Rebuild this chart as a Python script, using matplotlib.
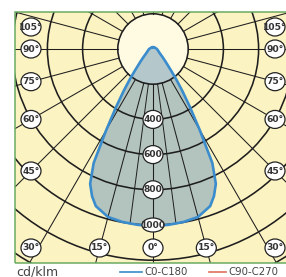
import numpy as np
import matplotlib
matplotlib.use('Agg')
import matplotlib.pyplot as plt
from matplotlib.patches import Rectangle, Circle, Ellipse

# ---------------- data ----------------
gamma_deg = [0, 5, 10, 15, 20, 22.5, 25, 27.5, 30, 32.5, 35, 37.5, 40, 45, 50,
             60, 70, 80, 90, 100, 120, 150, 180]
c0_c180 = [1005, 1003, 998, 988, 950, 905, 845, 730, 530, 390, 290, 215, 160,
           100, 70, 42, 32, 26, 22, 18, 14, 12, 10]
ring_values = [200, 400, 600, 800, 1000, 1200, 1400, 1600]
ring_labels = ['400', '600', '800', '1000']
angle_labels = [0, 15, 30, 45, 60, 75, 90, 105]
unit_label = 'cd/klm'
legend_labels = ['C0-C180', 'C90-C270']

# ---------------- layout ----------------
W, H = 286, 277
K = 0.176            # pixels per cd
OX, OY = 153, 49     # pixel position of the polar origin


def px(x, y):
    """pixel position -> data (cd) position"""
    return (x - OX) / K, (OY - y) / K


fig = plt.figure(figsize=(W / 100, H / 100), dpi=100)
ax = fig.add_axes([0, 0, 1, 1])
x0, y1 = px(0, 0)
x1, y0 = px(W, H)
ax.set_xlim(x0, x1)
ax.set_ylim(y0, y1)
ax.axis('off')

yellow = '#fcf3c2'
pale = '#fffbe3'
grid_c = '#1e1e1e'

fx0, fy1 = px(15, 12)
fx1, fy0 = px(291, 263)
frame = Rectangle((fx0, fy0), fx1 - fx0, fy1 - fy0, facecolor=yellow,
                  edgecolor='none', zorder=0)
ax.add_patch(frame)

r_in = ring_values[0]
inner = Circle((0, 0), r_in, facecolor=pale, edgecolor='none', zorder=1)
ax.add_patch(inner)
inner.set_clip_path(frame)

# rings
for r in ring_values:
    c = Circle((0, 0), r, facecolor='none', edgecolor=grid_c, lw=1.15, zorder=3)
    ax.add_patch(c)
    c.set_clip_path(frame)

# radial lines every 15 degrees (both sides)
rmax = 3000
for a in range(0, 181, 15):
    for s in (-1, 1):
        t = np.radians(a)
        xs = [s * r_in * np.sin(t), s * rmax * np.sin(t)]
        ys = [-r_in * np.cos(t), -rmax * np.cos(t)]
        ln, = ax.plot(xs, ys, color=grid_c, lw=0.75, zorder=3)
        ln.set_clip_path(frame)
# finer lines at +-7.5 degrees inside the main beam
for s in (-1, 1):
    t = np.radians(7.5)
    ax.plot([s * r_in * np.sin(t), s * ring_values[4] * np.sin(t)],
            [-r_in * np.cos(t), -ring_values[4] * np.cos(t)],
            color=grid_c, lw=0.7, zorder=3)

# luminous intensity curve (symmetric C0-C180 plane)
g = np.radians(np.array(gamma_deg))
I = np.array(c0_c180)
gg = np.concatenate([-g[::-1], g[1:]])
II = np.concatenate([I[::-1], I[1:]])
xc = II * np.sin(gg)
yc = -II * np.cos(gg)
ax.fill(xc, yc, color='#7fa3bd', alpha=0.58, zorder=2, lw=0)
ax.plot(np.append(xc, xc[0]), np.append(yc, yc[0]), color='#3a8ccc',
        lw=1.9, zorder=4, solid_joinstyle='round')

# label markers
lab_font = dict(family=['Liberation Sans Narrow', 'DejaVu Sans'],
                fontsize=6.6, fontweight='bold', color='#333333',
                ha='center', va='center', zorder=7)
half_w = 122 / K
bottom = 199 / K
top = 22 / K
rw, rh = 20 / K, 18 / K


def badge(x, y, text, w=rw, h=rh):
    e = Ellipse((x, y), w, h, facecolor='white', edgecolor='#222222',
                lw=0.9, zorder=6)
    ax.add_patch(e)
    ax.text(x, y, text, **lab_font)


for a in angle_labels:
    t = np.radians(a)
    sides = (1,) if a == 0 else (-1, 1)
    for s in sides:
        dx, dy = np.sin(t), -np.cos(t)
        cand = []
        if dx > 1e-9:
            cand.append(half_w / dx)
        if dy < -1e-9:
            cand.append(bottom / -dy)
        tt = min(cand)
        x = dx * tt
        y = dy * tt
        if half_w - x < 60:
            x = half_w
        y = min(max(y, -bottom), top)
        badge(s * x, y, f'{a}°')

for lab in ring_labels:
    v = float(lab)
    badge(0, -v, lab, w=(22 if len(lab) > 3 else 20) / K,
          h=(14 if len(lab) > 3 else 18) / K)

# frame border
ax.add_patch(Rectangle((fx0, fy0), fx1 - fx0, fy1 - fy0, facecolor='none',
                       edgecolor='#6aab62', lw=1.1, zorder=8))

# bottom legend
leg_font = dict(color='#444444', va='center', family='DejaVu Sans')
ax.text(*px(16, 272), unit_label, ha='left', fontsize=9.0, **leg_font)
ax.plot(*zip(px(120, 272), px(142, 272)), color='#3a8ccc', lw=1.2)
ax.text(*px(144, 272), legend_labels[0], ha='left', fontsize=7.3, **leg_font)
ax.plot(*zip(px(209, 272), px(226, 272)), color='#e0705e', lw=1.2)
ax.text(*px(228, 272), legend_labels[1], ha='left', fontsize=7.3, **leg_font)

fig.savefig('out.png', dpi=100, facecolor='white')
